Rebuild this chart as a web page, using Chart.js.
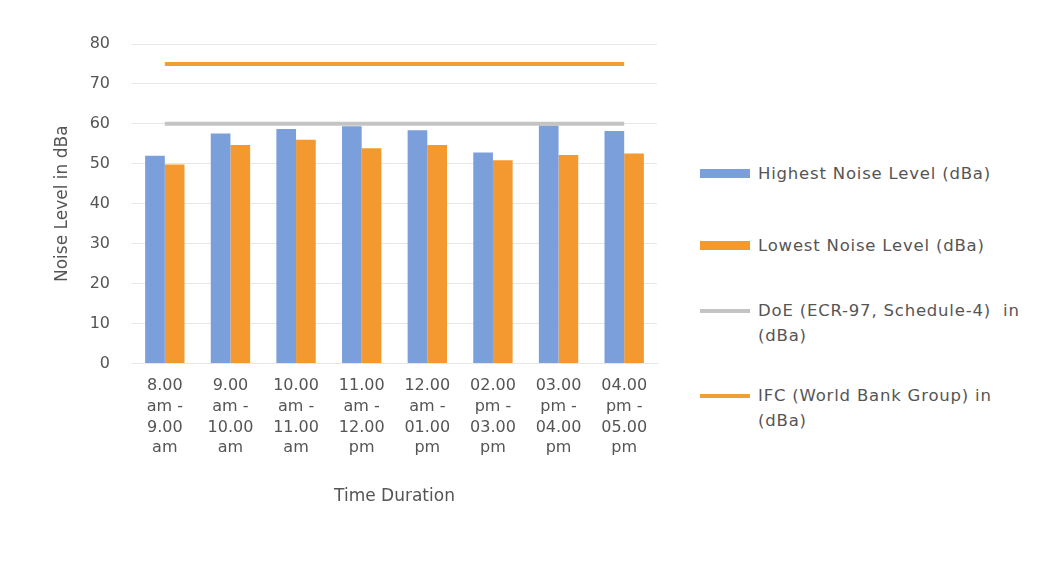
<!DOCTYPE html>
<html>
<head>
<meta charset="utf-8">
<script src="https://cdn.jsdelivr.net/npm/chart.js@4.4.1/dist/chart.umd.min.js"></script>
<style>
  html, body { margin: 0; padding: 0; background: #fff; }
  #wrap { position: relative; width: 1050px; height: 569px; overflow: hidden; }
  #noiseChart { position: absolute; left: 0; top: 0; }
  #legend { position: absolute; left: 700px; top: 0; width: 345px;
            font-family: "DejaVu Sans", sans-serif; font-size: 16.5px; letter-spacing: 0.8px; color: #555; }
  .item { position: absolute; left: 0; display: flex; align-items: flex-start; }
  .mark { flex: none; width: 50px; margin-right: 8px; }
  .txt { line-height: 25px; white-space: nowrap; }
</style>
</head>
<body>
<div id="wrap">
  <canvas id="noiseChart" width="690" height="569"></canvas>
  <div id="legend"></div>
</div>
<script>
// 時間帯ごとの騒音測定値
const timeSlots = [
  ['8.00', 'am -', '9.00', 'am'],
  ['9.00', 'am -', '10.00', 'am'],
  ['10.00', 'am -', '11.00', 'am'],
  ['11.00', 'am -', '12.00', 'pm'],
  ['12.00', 'am -', '01.00', 'pm'],
  ['02.00', 'pm -', '03.00', 'pm'],
  ['03.00', 'pm -', '04.00', 'pm'],
  ['04.00', 'pm -', '05.00', 'pm']
];
const highestLevel = [52.0, 57.6, 58.7, 59.4, 58.4, 52.8, 59.6, 58.2];
const lowestLevel = [49.8, 54.7, 56.0, 53.9, 54.7, 50.9, 52.2, 52.6];
const doeLimit = [60, 60, 60, 60, 60, 60, 60, 60];
const ifcLimit = [75, 75, 75, 75, 75, 75, 75, 75];
const yTicks = [0, 10, 20, 30, 40, 50, 60, 70, 80];

const seriesNames = [
  'Highest Noise Level (dBa)',
  'Lowest Noise Level (dBa)',
  'DoE (ECR-97, Schedule-4)  in (dBa)',
  'IFC (World Bank Group) in (dBa)'
];

const colors = {
  blue: '#7b9fda',
  orange: '#f3992f',
  grey: '#c4c4c4',
  ifc: '#f0a032',
  text: '#555555'
};

const tickFont = { family: '"DejaVu Sans", sans-serif', size: 16, lineHeight: 1.3 };
const titleFont = { family: '"DejaVu Sans", sans-serif', size: 17 };

const chart = new Chart(document.getElementById('noiseChart').getContext('2d'), {
  data: {
    labels: timeSlots,
    datasets: [
      { type: 'line', label: seriesNames[3], data: ifcLimit, borderColor: colors.ifc,
        borderWidth: 4, pointRadius: 0, order: 0 },
      { type: 'line', label: seriesNames[2], data: doeLimit, borderColor: colors.grey,
        borderWidth: 4, pointRadius: 0, order: 1 },
      { type: 'bar', label: seriesNames[0], data: highestLevel, backgroundColor: colors.blue,
        categoryPercentage: 0.6, barPercentage: 1, order: 2 },
      { type: 'bar', label: seriesNames[1], data: lowestLevel, backgroundColor: colors.orange,
        categoryPercentage: 0.6, barPercentage: 1, order: 3 }
    ]
  },
  options: {
    responsive: false,
    animation: false,
    layout: { padding: { left: 52, right: 33, top: 44, bottom: 58 } },
    plugins: { legend: { display: false }, tooltip: { enabled: false } },
    scales: {
      x: {
        grid: { display: false },
        border: { display: true, color: '#e6e6e6' },
        ticks: { color: colors.text, font: tickFont, padding: 4, maxRotation: 0, autoSkip: false },
        title: { display: true, text: 'Time Duration', color: colors.text,
                 font: titleFont, padding: { top: 24 } }
      },
      y: {
        min: 0, max: 80,
        afterBuildTicks: s => { s.ticks = yTicks.map(v => ({ value: v })); },
        afterFit: s => { s.width = 80; },
        grid: { color: '#e6e6e6', drawTicks: false },
        border: { display: false },
        ticks: { color: colors.text, font: tickFont, padding: 22 },
        title: { display: true, text: 'Noise Level in dBa', color: colors.text,
                 font: titleFont, padding: 0 }
      }
    }
  }
});

// 凡例は右側にHTMLで描く
const legendItems = [
  { name: seriesNames[0], color: colors.blue, kind: 'box', top: 161 },
  { name: seriesNames[1], color: colors.orange, kind: 'box', top: 233 },
  { name: 'DoE (ECR-97, Schedule-4)&nbsp; in<br>(dBa)', color: colors.grey, kind: 'line', top: 298 },
  { name: 'IFC (World Bank Group) in<br>(dBa)', color: colors.ifc, kind: 'line', top: 383 }
];
const legend = document.getElementById('legend');
legendItems.forEach(it => {
  const h = it.kind === 'box' ? 9 : 4;
  const div = document.createElement('div');
  div.className = 'item';
  div.style.top = it.top + 'px';
  div.innerHTML = `<span class="mark" style="height:${h}px;margin-top:${12.5 - h / 2}px;background:${it.color}"></span><span class="txt">${it.name}</span>`;
  legend.appendChild(div);
});
</script>
</body>
</html>
